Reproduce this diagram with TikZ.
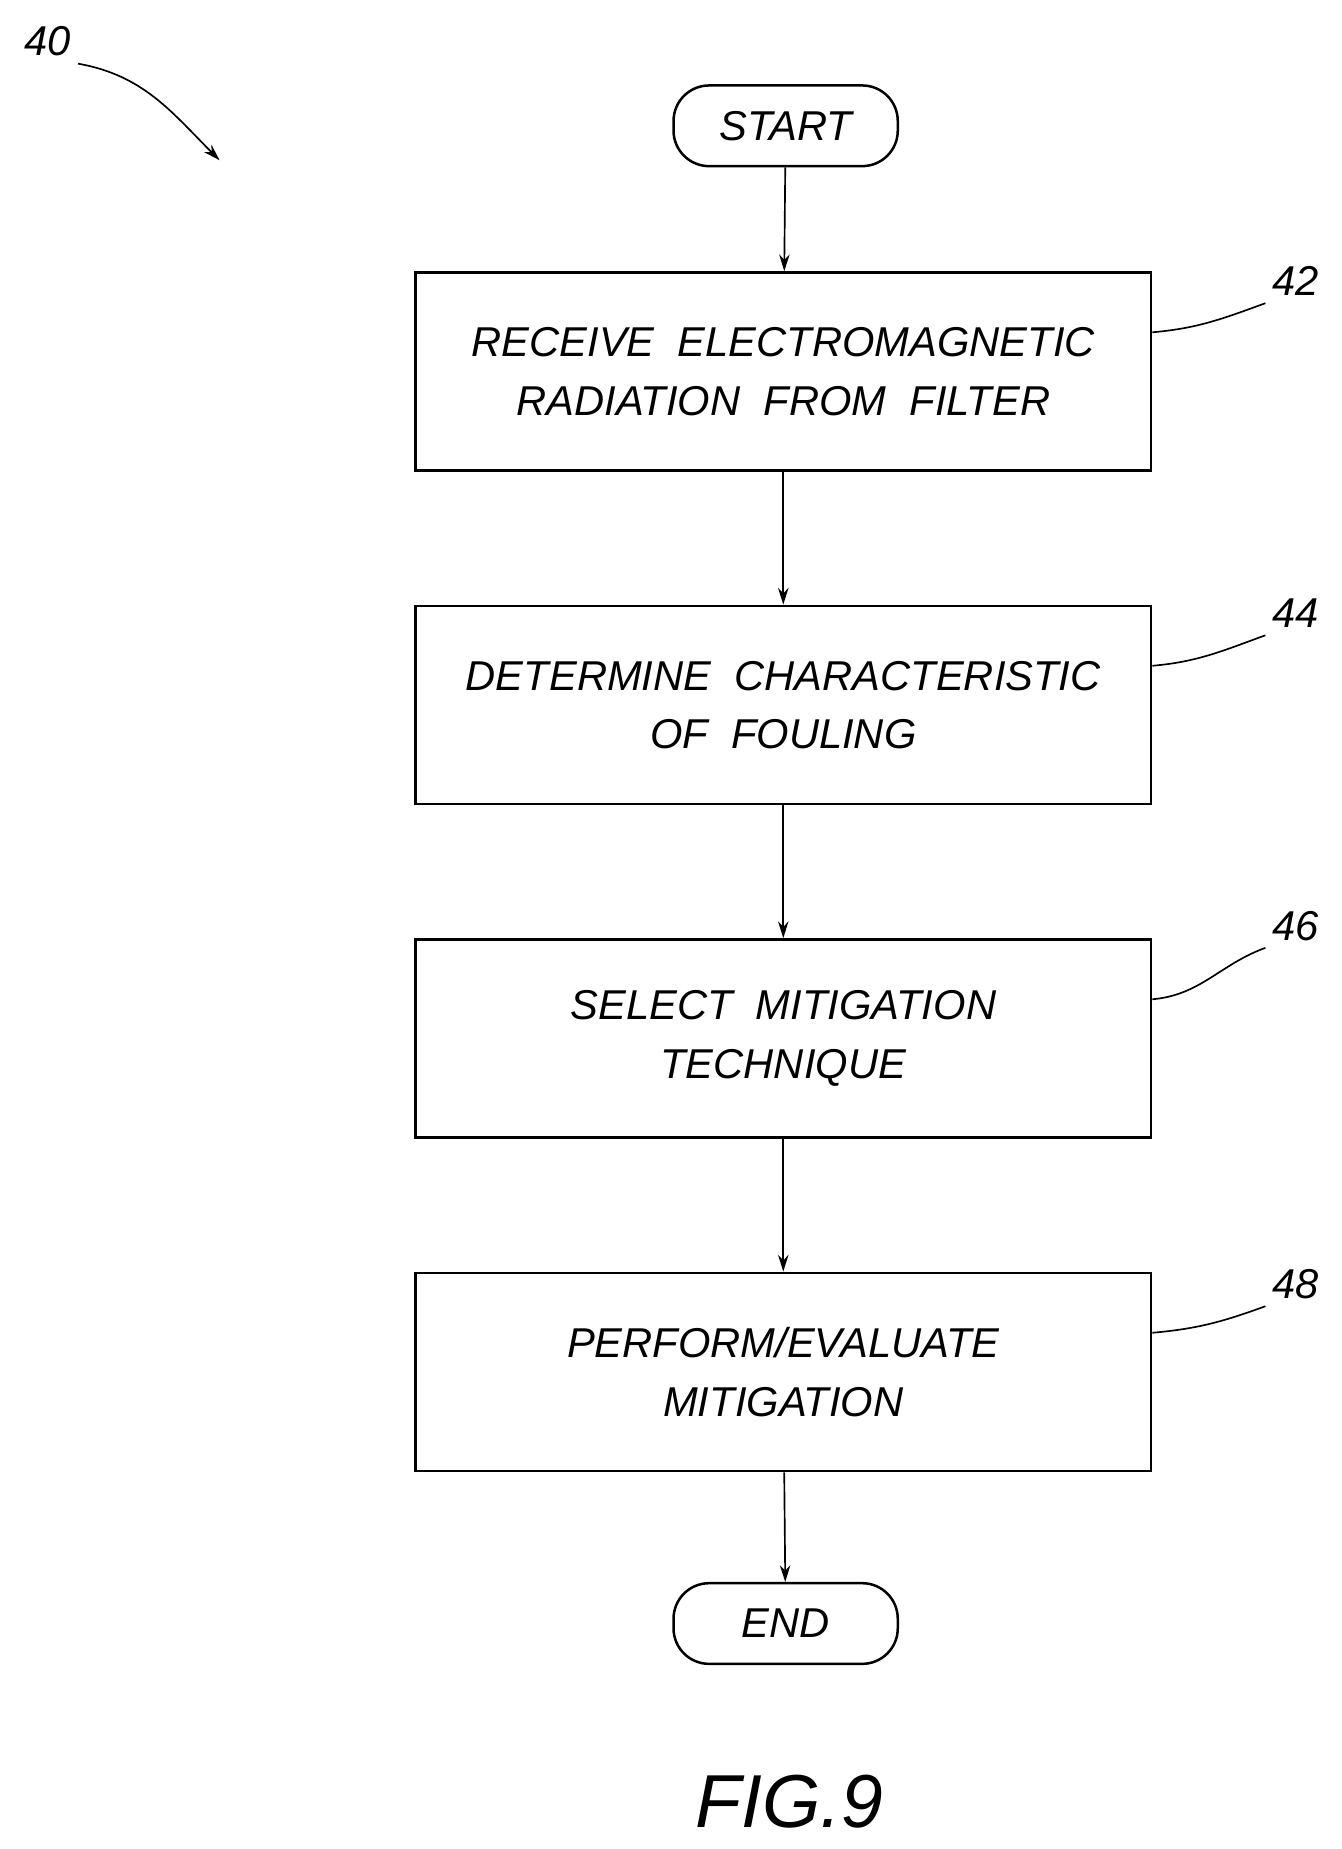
\documentclass[tikz,border=0pt]{standalone}
\usepackage{fontspec}
\setmainfont{Liberation Sans}
\usetikzlibrary{arrows.meta}

\begin{document}
\begin{tikzpicture}[x=0.02cm,y=-0.02cm,
		box/.style={draw,line width=1.2pt,minimum width=12.4cm,minimum height=3.34cm,align=center,font=\fontsize{20}{28}\selectfont\itshape},
		term/.style={draw,line width=1.2pt,rounded corners=0.6cm,minimum width=3.78cm,minimum height=1.36cm,font=\fontsize{20}{28}\selectfont\itshape},
		num/.style={font=\fontsize{20}{24}\selectfont\itshape},
		flow/.style={-{Stealth[length=8pt,width=5pt]},line width=0.8pt}]
		\useasboundingbox (0,0) rectangle (1130,1558);
		\node[term] (start) at (662,106) {START};
		\node[box] (s42) at (660,313) {RECEIVE\ \ ELECTROMAGNETIC\\RADIATION\ \ FROM\ \ FILTER};
		\node[box] (s44) at (660,594) {DETERMINE\ \ CHARACTERISTIC\\OF\ \ FOULING};
		\node[box] (s46) at (660,875) {SELECT\ \ MITIGATION\\TECHNIQUE};
		\node[box] (s48) at (660,1156) {PERFORM/EVALUATE\\MITIGATION};
		\node[term] (end) at (662,1368) {END};
		\draw[flow] (start) -- (s42);
		\draw[flow] (s42) -- (s44);
		\draw[flow] (s44) -- (s46);
		\draw[flow] (s46) -- (s48);
		\draw[flow] (s48) -- (end);
		% reference numerals
		\foreach \n/\y in {42/237, 44/517, 46/780, 48/1082}{
			\node[num] (l\n) at (1092,\y) {\n};
			\draw[line width=0.8pt] (s\n.east) ++(0,-33) coordinate (c\n) (c\n) to[out=5,in=200] (l\n.south west);
		}
		\node[num] (l40) at (40,35) {40};
		\coordinate (a40) at (185,135);
		\draw[flow] (l40.south east) to[out=-10,in=135] (a40);
		\node[font=\fontsize{36}{42}\selectfont\itshape] (fig) at (665,1518) {FIG.9};
	\end{tikzpicture}
\end{document}
